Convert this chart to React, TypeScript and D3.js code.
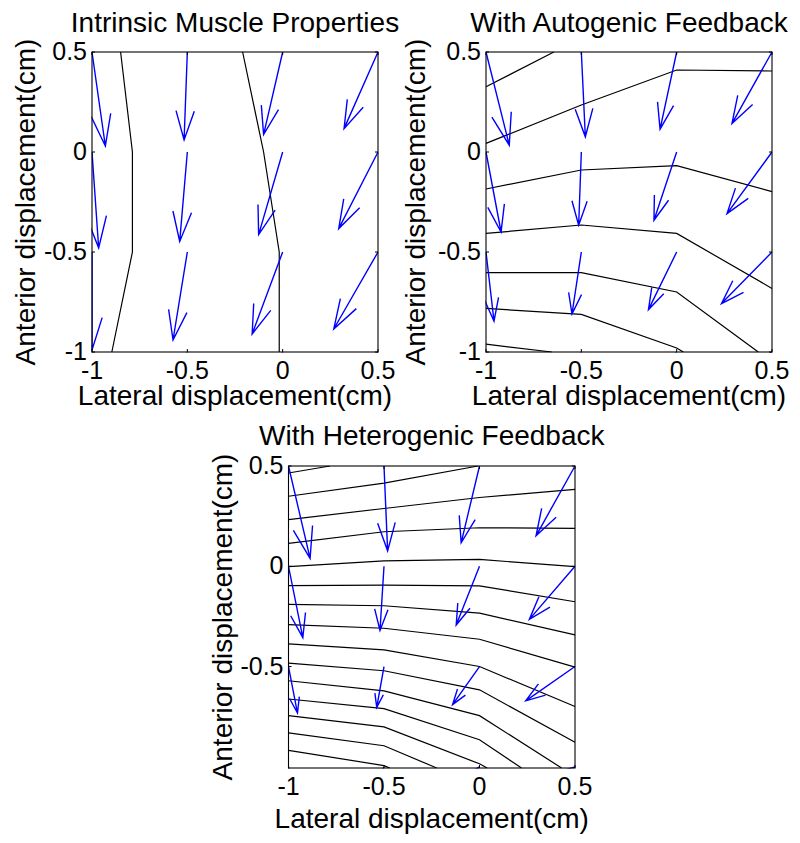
import React, { useEffect, useRef } from 'react'
import * as d3 from 'd3'

const width = 800
const height = 843
const fontFamily = '"Liberation Sans", Arial, Helvetica, sans-serif'

// quiver grid (rows follow gridY, columns follow gridX)
const gridX = [-1, -0.5, 0, 0.5]
const gridY = [0.5, 0, -0.5, -1]

const xTicks = [-1, -0.5, 0, 0.5]
const xTickLabels = ['-1', '-0.5', '0', '0.5']
const yTicks = [-1, -0.5, 0, 0.5]
const yTickLabels = ['-1', '-0.5', '0', '0.5']
const yTicksHetero = [-0.5, 0, 0.5]
const yTickLabelsHetero = ['-0.5', '0', '0.5']

const titles = ['Intrinsic Muscle Properties', 'With Autogenic Feedback', 'With Heterogenic Feedback']
const xLabel = 'Lateral displacement(cm)'
const yLabel = 'Anterior displacement(cm)'

// force vectors (cm)
const intrinsicU = [
  [0.07, -0.017, -0.1, -0.178],
  [0.035, -0.04, -0.126, -0.206],
  [0.0, -0.075, -0.16, -0.232],
  [-0.02, -0.09, -0.18, -0.25],
]
const intrinsicV = [
  [-0.47, -0.44, -0.413, -0.383],
  [-0.48, -0.447, -0.413, -0.383],
  [-0.49, -0.44, -0.41, -0.385],
  [-0.49, -0.44, -0.41, -0.385],
]

const autoU = [
  [0.122, 0.021, -0.087, -0.21],
  [0.079, -0.014, -0.119, -0.236],
  [0.042, -0.049, -0.148, -0.265],
  [0.01, -0.08, -0.17, -0.29],
]
const autoV = [
  [-0.466, -0.424, -0.386, -0.358],
  [-0.4, -0.366, -0.341, -0.308],
  [-0.346, -0.31, -0.288, -0.258],
  [-0.3, -0.26, -0.24, -0.21],
]

const heteroU = [
  [0.113, 0.019, -0.096, -0.204],
  [0.075, -0.021, -0.122, -0.239],
  [0.047, -0.038, -0.141, -0.258],
  [0.02, -0.05, -0.15, -0.27],
]
const heteroV = [
  [-0.461, -0.423, -0.383, -0.348],
  [-0.356, -0.32, -0.293, -0.265],
  [-0.232, -0.204, -0.19, -0.171],
  [-0.12, -0.1, -0.09, -0.08],
]

// iso-lines [x, y]
const intrinsicLines = [
  [[-0.85, 0.5], [-0.788, 0], [-0.788, -0.5], [-0.896, -1]],
  [[-0.21, 0.5], [-0.1, 0], [-0.018, -0.5], [-0.018, -1]],
]

const autoLines = [
  [[-1, 0.326], [-0.644, 0.5]],
  [[-1, 0.043], [-0.5, 0.235], [0, 0.41], [0.5, 0.405]],
  [[-1, -0.185], [-0.5, -0.09], [0, -0.068], [0.5, -0.198]],
  [[-1, -0.407], [-0.5, -0.365], [0, -0.407], [0.5, -0.682]],
  [[-1, -0.603], [-0.5, -0.603], [0, -0.7], [0.428, -1]],
  [[-1, -0.782], [-0.5, -0.812], [0, -0.98], [0.035, -1]],
  [[-1, -0.961], [-0.655, -1]],
]

const heteroLines = [
  [[-1, 0.465], [-0.783, 0.5]],
  [[-1, 0.349], [-0.5, 0.415], [-0.008, 0.5]],
  [[-1, 0.233], [-0.5, 0.288], [0, 0.343], [0.5, 0.383]],
  [[-1, 0.114], [-0.5, 0.172], [0, 0.192], [0.5, 0.189]],
  [[-1, -0.002], [-0.5, 0.027], [0, 0.034], [0.5, -0.002]],
  [[-1, -0.097], [-0.5, -0.094], [0, -0.098], [0.5, -0.177]],
  [[-1, -0.19], [-0.5, -0.197], [0, -0.234], [0.5, -0.342]],
  [[-1, -0.291], [-0.5, -0.309], [0, -0.364], [0.5, -0.503]],
  [[-1, -0.387], [-0.5, -0.417], [0, -0.5], [0.5, -0.699]],
  [[-1, -0.483], [-0.5, -0.521], [0, -0.616], [0.5, -0.878]],
  [[-1, -0.571], [-0.5, -0.621], [0, -0.745], [0.43, -1.006]],
  [[-1, -0.662], [-0.5, -0.71], [0, -0.865], [0.22, -1.006]],
  [[-1, -0.745], [-0.5, -0.801], [0, -0.985], [0.04, -1.006]],
  [[-1, -0.831], [-0.5, -0.895], [-0.224, -1.006]],
  [[-1, -0.918], [-0.5, -0.994], [-0.47, -1.006]],
]

const panels = [
  { title: titles[0], u: intrinsicU, v: intrinsicV, lines: intrinsicLines,
    left: 92, right: 378, top: 52, bottom: 352, yMin: -1,
    yTicks: yTicks, yTickLabels: yTickLabels, titleY: 32, xLabelY: 405, yLabelX: 35 },
  { title: titles[1], u: autoU, v: autoV, lines: autoLines,
    left: 486, right: 772, top: 52, bottom: 352, yMin: -1,
    yTicks: yTicks, yTickLabels: yTickLabels, titleY: 32, xLabelY: 405, yLabelX: 425 },
  { title: titles[2], u: heteroU, v: heteroV, lines: heteroLines,
    left: 288.5, right: 575, top: 466, bottom: 768, yMin: -1.006,
    yTicks: yTicksHetero, yTickLabels: yTickLabelsHetero, titleY: 445, xLabelY: 828, yLabelX: 232 },
]

function drawPanel(svg, p, i) {
  const x = d3.scaleLinear().domain([-1, 0.5]).range([p.left, p.right])
  const y = d3.scaleLinear().domain([p.yMin, 0.5]).range([p.bottom, p.top])
  const g = svg.append('g')

  const clipId = 'plotClip' + i
  g.append('clipPath').attr('id', clipId)
    .append('rect')
    .attr('x', p.left - 0.5)
    .attr('y', p.top - 0.5)
    .attr('width', p.right - p.left + 1)
    .attr('height', p.bottom - p.top + 1)

  const plot = g.append('g').attr('clip-path', `url(#${clipId})`)

  plot.selectAll('path.iso')
    .data(p.lines)
    .enter().append('path')
    .attr('class', 'iso')
    .attr('fill', 'none')
    .attr('stroke', 'black')
    .attr('stroke-width', 1.2)
    .attr('d', d3.line().x((d) => x(d[0])).y((d) => y(d[1])))

  const arrows = []
  gridY.forEach((gy, r) => {
    gridX.forEach((gx, c) => {
      arrows.push({ x: gx, y: gy, u: p.u[r][c], v: p.v[r][c] })
    })
  })

  // matlab quiver style heads
  const alpha = 0.33
  const beta = 0.33
  plot.selectAll('path.arrow')
    .data(arrows)
    .enter().append('path')
    .attr('class', 'arrow')
    .attr('fill', 'none')
    .attr('stroke', '#0000ff')
    .attr('stroke-width', 1.4)
    .attr('d', (d) => {
      const tx = d.x + d.u
      const ty = d.y + d.v
      const h1x = tx - alpha * (d.u + beta * d.v)
      const h1y = ty - alpha * (d.v - beta * d.u)
      const h2x = tx - alpha * (d.u - beta * d.v)
      const h2y = ty - alpha * (d.v + beta * d.u)
      return 'M' + x(d.x) + ',' + y(d.y) + 'L' + x(tx) + ',' + y(ty)
        + 'M' + x(h1x) + ',' + y(h1y) + 'L' + x(tx) + ',' + y(ty) + 'L' + x(h2x) + ',' + y(h2y)
    })

  // box
  g.append('rect')
    .attr('x', p.left)
    .attr('y', p.top)
    .attr('width', p.right - p.left)
    .attr('height', p.bottom - p.top)
    .attr('fill', 'none')
    .attr('stroke', 'black')
    .attr('stroke-width', 1.1)

  const tickLen = 3
  xTicks.forEach((t) => {
    g.append('line').attr('x1', x(t)).attr('x2', x(t)).attr('y1', p.bottom).attr('y2', p.bottom - tickLen)
      .attr('stroke', 'black')
    g.append('line').attr('x1', x(t)).attr('x2', x(t)).attr('y1', p.top).attr('y2', p.top + tickLen)
      .attr('stroke', 'black')
  })
  p.yTicks.forEach((t) => {
    g.append('line').attr('x1', p.left).attr('x2', p.left + tickLen).attr('y1', y(t)).attr('y2', y(t))
      .attr('stroke', 'black')
    g.append('line').attr('x1', p.right).attr('x2', p.right - tickLen).attr('y1', y(t)).attr('y2', y(t))
      .attr('stroke', 'black')
  })

  g.selectAll('text.xtick')
    .data(xTicks)
    .enter().append('text')
    .attr('class', 'xtick')
    .attr('x', (d) => x(d))
    .attr('y', p.bottom + 27)
    .attr('text-anchor', 'middle')
    .style('font-size', '25px')
    .text((_, k) => xTickLabels[k])

  g.selectAll('text.ytick')
    .data(p.yTicks)
    .enter().append('text')
    .attr('class', 'ytick')
    .attr('x', p.left - 5)
    .attr('y', (d) => y(d) + 8)
    .attr('text-anchor', 'end')
    .style('font-size', '25px')
    .text((_, k) => p.yTickLabels[k])

  g.append('text')
    .attr('x', (p.left + p.right) / 2)
    .attr('y', p.titleY)
    .attr('text-anchor', 'middle')
    .style('font-size', '28px')
    .text(p.title)

  g.append('text')
    .attr('x', (p.left + p.right) / 2)
    .attr('y', p.xLabelY)
    .attr('text-anchor', 'middle')
    .style('font-size', '28px')
    .text(xLabel)

  g.append('text')
    .attr('transform', 'translate(' + p.yLabelX + ',' + (p.top + p.bottom) / 2 + ')rotate(-90)')
    .attr('text-anchor', 'middle')
    .style('font-size', '28px')
    .text(yLabel)
}

function App() {
  const ref = useRef(null)

  useEffect(() => {
    const svg = d3.select(ref.current)
    svg.selectAll('*').remove()
    svg.append('rect').attr('width', width).attr('height', height).attr('fill', 'white')
    panels.forEach((p, i) => drawPanel(svg, p, i))
  }, [])

  return (
    <div style={{ position: 'absolute', left: 0, top: 0 }}>
      <svg ref={ref} width={width} height={height}
        style={{ display: 'block', fontFamily: fontFamily, fill: 'black' }} />
    </div>
  )
}

export default App
